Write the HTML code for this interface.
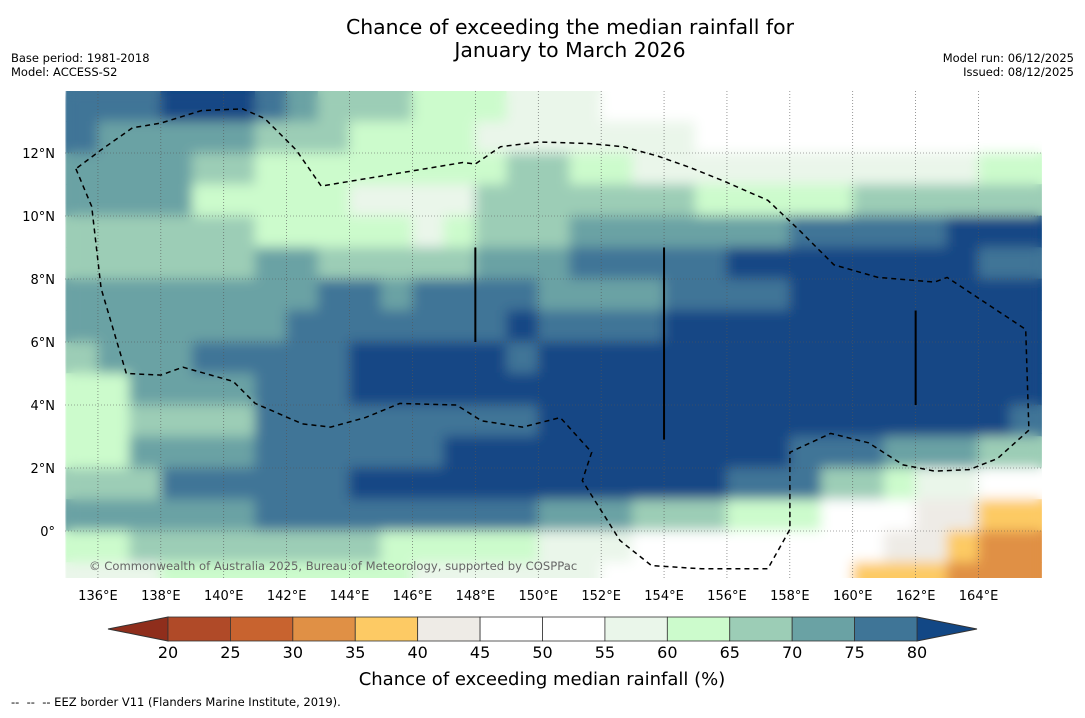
<!DOCTYPE html>
<html><head><meta charset="utf-8"><style>
body{margin:0;background:#fff;font-family:"Liberation Sans","DejaVu Sans",sans-serif;}
svg text{font-family:"DejaVu Sans","Liberation Sans",sans-serif;}
</style></head><body>
<svg id="chart" width="1085" height="713" xmlns="http://www.w3.org/2000/svg">
<rect width="1085" height="713" fill="#fff"/>
<text x="570" y="34" font-size="20.4" text-anchor="middle">Chance of exceeding the median rainfall for</text>
<text x="570" y="57" font-size="20.4" text-anchor="middle">January to March 2026</text>
<text x="11" y="62" font-size="11.5">Base period: 1981-2018</text>
<text x="11" y="76" font-size="11.5">Model: ACCESS-S2</text>
<text x="1074" y="62" font-size="11.5" text-anchor="end">Model run: 06/12/2025</text>
<text x="1074" y="76" font-size="11.5" text-anchor="end">Issued: 08/12/2025</text>
<defs>
<clipPath id="mapclip"><rect x="65" y="91" width="977" height="487"/></clipPath>
<filter id="soft" x="-5%" y="-5%" width="110%" height="110%"><feGaussianBlur stdDeviation="6"/></filter>
</defs>
<g clip-path="url(#mapclip)">
<g id="cells"></g>
<g id="cellsSoft" filter="url(#soft)"></g>
</g>
<g id="grid" clip-path="url(#mapclip)"></g>
<path id="eez" fill="none" stroke="#000" stroke-width="1.5" stroke-dasharray="5,4" clip-path="url(#mapclip)"/>
<g id="vlines"></g>
<text x="89" y="570" font-size="11.6" fill="#666">© Commonwealth of Australia 2025, Bureau of Meteorology, supported by COSPPac</text>
<g id="xticks"></g>
<g id="yticks"></g>
<g id="cbar"></g>
<text x="542" y="685" font-size="18" text-anchor="middle">Chance of exceeding median rainfall (%)</text>
<text x="11" y="706" font-size="11.5" style="white-space:pre">--  --  -- EEZ border V11 (Flanders Marine Institute, 2019).</text>
</svg>
<script>
const lons=[135,136,137,138,139,140,141,142,143,144,145,146,147,148,149,150,151,152,153,154,155,156,157,158,159,160,161,162,163,164,165];
const latTops=[14,13,12,11,10,9,8,7,6,5,4,3,2,1,0,-1];
const r0=[77,77,77,82,82,82,77,72,67,67,67,62,62,62,57,57,57,50,50,50,50,50,50,50,50,50,50,50,50,50,50];
const r1=[77,72,72,72,72,72,67,67,67,62,62,62,62,57,57,57,57,57,57,57,50,50,50,50,50,50,50,50,50,50,50];
const r2=[72,72,72,72,67,67,62,62,62,62,62,62,62,62,67,67,62,62,57,57,57,57,57,57,57,57,57,57,57,62,62];
const r3=[72,72,72,72,62,62,62,62,62,57,57,57,57,67,67,67,67,67,67,67,62,62,62,62,62,67,67,67,67,67,67];
const r4=[67,67,67,67,67,67,62,62,62,62,62,57,62,67,67,67,72,72,72,72,72,72,72,77,77,77,77,77,82,82,82];
const r5=[67,67,67,67,67,67,72,72,67,67,67,67,67,72,72,72,77,77,77,77,77,82,82,82,82,82,82,82,82,77,77];
const r6=[72,72,72,72,72,72,72,72,77,77,72,77,77,77,77,72,72,72,72,77,77,77,77,82,82,82,82,82,82,82,82];
const r7=[72,72,72,72,72,72,72,77,77,77,77,77,77,77,82,77,77,77,77,82,82,82,82,82,82,82,82,82,82,82,82];
const r8=[67,72,72,72,77,77,77,77,77,82,82,82,82,82,77,82,82,82,82,82,82,82,82,82,82,82,82,82,82,82,82];
const r9=[62,62,72,72,72,72,77,77,77,82,82,82,82,82,82,82,82,82,82,82,82,82,82,82,82,82,82,82,82,82,82];
const r10=[62,62,67,67,67,67,77,77,77,77,77,77,77,77,77,82,82,82,82,82,82,82,82,82,82,82,82,82,82,82,77];
const r11=[62,62,72,72,72,72,77,77,77,77,77,77,82,82,82,82,82,82,82,82,82,82,82,77,77,77,72,72,72,67,67];
const r12=[67,67,67,77,77,77,77,77,77,82,82,82,82,82,82,82,82,82,82,82,82,77,77,77,67,67,62,57,57,50,50];
const r13=[72,72,72,72,72,72,77,77,77,77,77,77,77,77,77,72,72,72,67,67,67,62,62,62,50,50,50,42,42,37,37];
const r14=[62,62,67,67,67,67,67,67,67,67,62,62,62,62,62,57,57,57,50,50,50,50,50,50,50,50,42,42,37,32,32];
const r15=[57,57,57,62,62,62,62,62,62,62,62,57,57,57,57,57,57,50,50,50,50,50,50,50,50,37,37,37,32,32,32];
const grid=[r0,r1,r2,r3,r4,r5,r6,r7,r8,r9,r10,r11,r12,r13,r14,r15];
const levels=[20,25,30,35,40,45,50,55,60,65,70,75,80];
const levelColors=["#b04a28","#c8632f","#e09045","#fdca64","#eeebe6","#ffffff","#ffffff","#eaf6ea","#ccfbcc","#9ccdb6","#6aa2a4","#3f7597"];
const xTickLons=[136,138,140,142,144,146,148,150,152,154,156,158,160,162,164];
const yTickLats=[0,2,4,6,8,10,12];
const eezLonLat=[[135.3,11.5],[135.8,10.3],[136.1,7.7],[136.9,5],[138,4.95],[138.7,5.2],[140.3,4.75],[141,4.05],[142.5,3.4],[143.4,3.3],[144.5,3.6],[145.6,4.05],[147.4,4],[148.2,3.5],[149.5,3.3],[150.7,3.6],[151.7,2.5],[151.4,1.6],[152.6,-0.3],[153.6,-1.1],[155.2,-1.2],[157.3,-1.2],[158,0.05],[158,2.5],[159.3,3.1],[160.5,2.8],[161.6,2.1],[162.6,1.9],[163.7,1.95],[164.6,2.3],[165.6,3.2],[165.5,6.4],[163,8.05],[162.6,7.9],[160.8,8.05],[159.4,8.45],[158.3,9.55],[157.3,10.5],[155.8,11.15],[154.8,11.55],[153.8,11.9],[152.7,12.2],[151.6,12.3],[150,12.35],[148.8,12.2],[148,11.65],[147.6,11.7],[143.1,10.95],[142.3,12.1],[141.3,13.1],[140.6,13.4],[139.3,13.35],[138,12.95],[137.1,12.8],[136.1,12.1],[135.3,11.5]];
const vLines=[[148,9,6],[154,9,2.9],[162,7,4]];

const X=lon=>66.5+(lon-135)*31.45;
const Y=lat=>531-lat*31.5;
const CX=v=>168+(v-20)*(917-168)/60;
const NS="http://www.w3.org/2000/svg";
function mk(tag,attrs,parent){const e=document.createElementNS(NS,tag);for(const k in attrs)e.setAttribute(k,attrs[k]);parent.appendChild(e);return e;}
function colorFor(v){if(v>=80)return "#124785";if(v<20)return "#8f2e1c";for(let i=0;i<levels.length-1;i++){if(v>=levels[i]&&v<levels[i+1])return levelColors[i];}return "#fff";}

['cells','cellsSoft'].forEach(id=>{
const cells=document.getElementById(id);
grid.forEach((row,ri)=>{const top=latTops[ri];const bot=top-1;
 row.forEach((v,ci)=>{const lon=lons[ci];
  const r=mk('rect',{x:X(lon)-0.3,y:Y(top)-0.3,width:X(lon+1)-X(lon)+0.6,height:Y(bot)-Y(top)+0.6,fill:colorFor(v)},cells);
  
  
 });});
});

const g=document.getElementById('grid');
xTickLons.forEach(l=>{const ln=mk('line',{x1:X(l),x2:X(l),y1:91,y2:578,stroke:"#555","stroke-width":0.6,"stroke-dasharray":"1,2"},g);
 });
yTickLats.forEach(l=>{const ln=mk('line',{x1:65,x2:1042,y1:Y(l),y2:Y(l),stroke:"#555","stroke-width":0.6,"stroke-dasharray":"1,2"},g);
 });

document.getElementById('eez').setAttribute('d',eezLonLat.map((p,i)=>(i?'L':'M')+X(p[0]).toFixed(1)+','+Y(p[1]).toFixed(1)).join(''));

const vl=document.getElementById('vlines');
vLines.forEach(v=>{const ln=mk('line',{x1:X(v[0]),x2:X(v[0]),y1:Y(v[1]),y2:Y(v[2]),stroke:"#000","stroke-width":2},vl);
 });

const xt=document.getElementById('xticks');
xTickLons.forEach(l=>{const t=mk('text',{x:X(l),y:600,"font-size":13,"text-anchor":"middle"},xt);t.textContent=l+'°E';
 });
const yt=document.getElementById('yticks');
yTickLats.forEach(l=>{const t=mk('text',{x:55,y:Y(l)+5,"font-size":13,"text-anchor":"end"},yt);t.textContent=l===0?'0°':l+'°N';
 });

const cb=document.getElementById('cbar');
const la=mk('polygon',{points:`108,629 168,617 168,641`,fill:"#8f2e1c",stroke:"#333","stroke-width":1},cb);

const ra=mk('polygon',{points:`917,617 977,629 917,641`,fill:"#124785",stroke:"#333","stroke-width":1},cb);

for(let i=0;i<levels.length-1;i++){const r=mk('rect',{x:CX(levels[i]),y:617,width:CX(levels[i+1])-CX(levels[i]),height:24,fill:levelColors[i],stroke:"#333","stroke-width":0.8},cb);
 }
levels.forEach(v=>{const t=mk('text',{x:CX(v),y:658,"font-size":16,"text-anchor":"middle"},cb);t.textContent=v;
 });
</script>
</body></html>
